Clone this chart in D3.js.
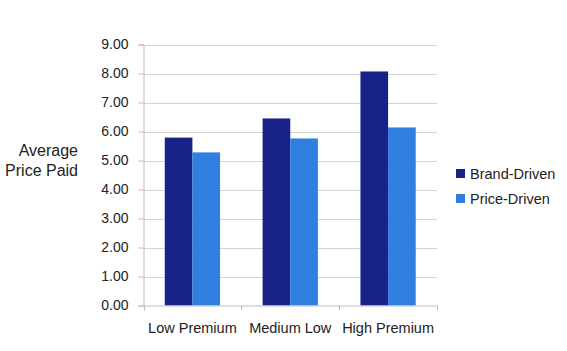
<!DOCTYPE html>
<html><head><meta charset="utf-8">
<script src="https://cdn.jsdelivr.net/npm/d3@7"></script>
<style>body{margin:0;background:#fff}svg{display:block;font-family:"Liberation Sans",Arial,sans-serif}</style>
</head><body><div id="chart"></div>
<script>
const categories = ["Low Premium", "Medium Low", "High Premium"];
const seriesNames = ["Brand-Driven", "Price-Driven"];
const brandDriven = [5.79, 6.45, 8.07];
const priceDriven = [5.28, 5.76, 6.14];
const yTicks = [0, 1, 2, 3, 4, 5, 6, 7, 8, 9];
const colors = ["#18238a", "#2f7fe0"];

const W = 567, H = 351;
const m = {left: 143.5, right: 130, top: 44.5, bottom: 45.5};
const svg = d3.select("#chart").append("svg").attr("width", W).attr("height", H);
const x0 = d3.scaleBand().domain(categories).range([m.left, W - m.right]).paddingInner(0.435).paddingOuter(0.2175);
const x1 = d3.scaleBand().domain(seriesNames).range([0, x0.bandwidth()]);
const y = d3.scaleLinear().domain([0, 9]).range([H - m.bottom, m.top]);

// gridlines
svg.append("g").selectAll("line").data(yTicks.slice(1)).join("line")
  .attr("x1", m.left).attr("x2", W - m.right)
  .attr("y1", d => Math.round(y(d)) + 0.5).attr("y2", d => Math.round(y(d)) + 0.5)
  .attr("stroke", "#d4d4d4").attr("stroke-width", 1);

// y axis
const yAxis = svg.append("g").attr("transform", `translate(${m.left},0)`)
  .call(d3.axisLeft(y).tickValues(yTicks).tickFormat(d3.format(".2f")).tickSize(5).tickPadding(10));
yAxis.select(".domain").attr("stroke", "#bdbdbd");
yAxis.selectAll(".tick line").attr("stroke", "#bdbdbd");
yAxis.selectAll("text").attr("font-size", 14).attr("fill", "#222").attr("font-family", "Liberation Sans, Arial, sans-serif");

// bars
const data = categories.map((c, i) => ({c, vals: [brandDriven[i], priceDriven[i]]}));
const g = svg.append("g").selectAll("g").data(data).join("g")
  .attr("transform", d => `translate(${x0(d.c)},0)`);
g.selectAll("rect").data(d => d.vals.map((v, j) => ({s: seriesNames[j], v, j}))).join("rect")
  .attr("x", d => x1(d.s)).attr("width", x1.bandwidth())
  .attr("y", d => y(d.v)).attr("height", d => y(0) - y(d.v))
  .attr("fill", d => colors[d.j]);

// x axis
const xAxisY = H - m.bottom;
const xg = svg.append("g");
xg.append("line").attr("x1", m.left).attr("x2", W - m.right).attr("y1", xAxisY + 0.5).attr("y2", xAxisY + 0.5).attr("stroke", "#bdbdbd");
const step = x0.step();
const seps = d3.range(categories.length + 1).map(i => m.left + i * step);
xg.selectAll("line.sep").data(seps).join("line").attr("class", "sep")
  .attr("x1", d => Math.round(d) + 0.5).attr("x2", d => Math.round(d) + 0.5)
  .attr("y1", xAxisY).attr("y2", xAxisY + 5).attr("stroke", "#bdbdbd");
xg.selectAll("text").data(categories).join("text")
  .attr("x", d => x0(d) + x0.bandwidth() / 2).attr("y", xAxisY + 27)
  .attr("text-anchor", "middle").attr("font-size", 14.5).attr("fill", "#222").text(d => d);

// y label
const yl = svg.append("text").attr("text-anchor", "end").attr("font-size", 16).attr("fill", "#222");
yl.append("tspan").attr("x", 78).attr("y", 156).text("Average");
yl.append("tspan").attr("x", 78).attr("y", 176).text("Price Paid");

// legend
const lg = svg.append("g").selectAll("g").data(seriesNames).join("g")
  .attr("transform", (d, i) => `translate(456,${169 + i * 25})`);
lg.append("rect").attr("width", 9).attr("height", 9).attr("fill", (d, i) => colors[i]);
lg.append("text").attr("x", 14).attr("y", 9.5).attr("font-size", 14.5).attr("fill", "#222").text(d => d);
</script></body></html>
